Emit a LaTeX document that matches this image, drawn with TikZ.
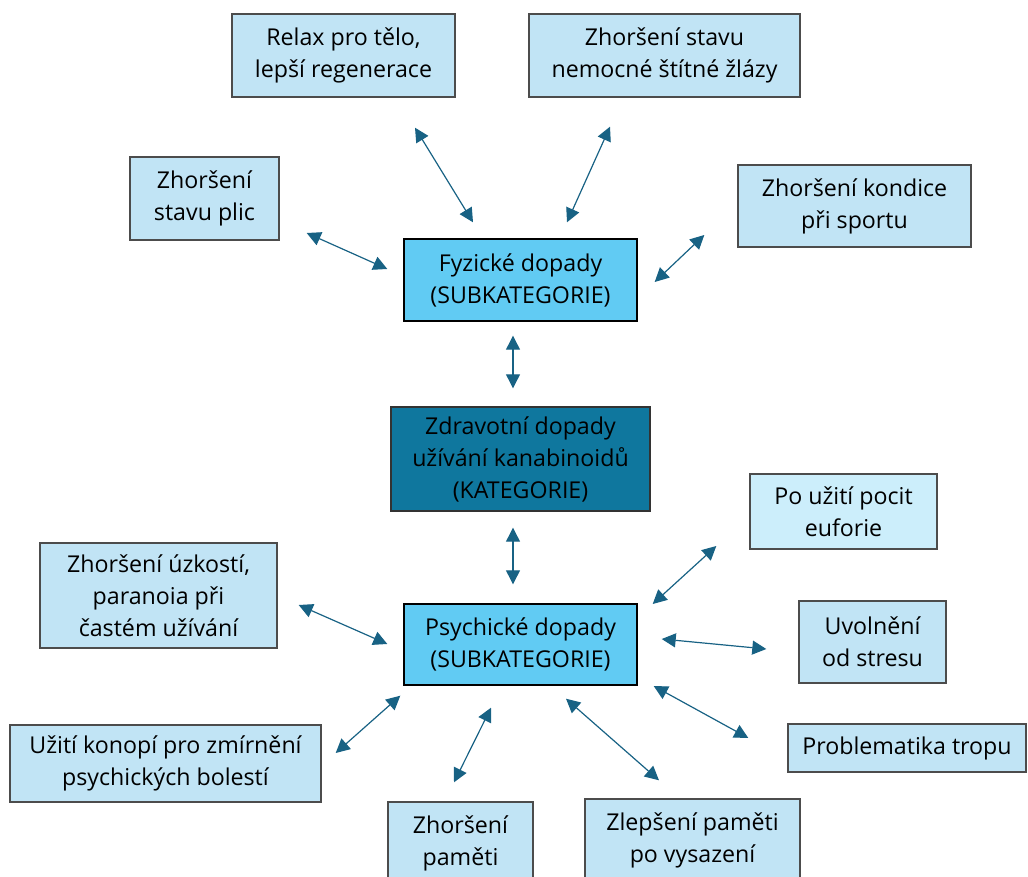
\documentclass[tikz,border=0pt]{standalone}
\usepackage{fontspec}
\setmainfont{Open Sans}
\usetikzlibrary{arrows.meta, calc}
\definecolor{leafblue}{RGB}{193,228,245}
\definecolor{paleblue}{RGB}{204,238,251}
\definecolor{subblue}{RGB}{97,203,243}
\definecolor{catblue}{RGB}{15,119,158}
\definecolor{linkblue}{RGB}{24,98,132}
\tikzset{
  leaf node/.style={
    draw=black!70,
    line width=0.7pt,
    fill=leafblue,
    align=center,
    inner sep=0pt,
    font=\fontsize{11.6}{16}\selectfont,
  },
  sub node/.style={
    leaf node,
    draw=black,
    fill=subblue,
  },
  cat node/.style={
    leaf node,
    draw=black!80,
    fill=catblue,
  },
  link/.style={
    {Triangle[length=7pt,width=7pt]}-{Triangle[length=7pt,width=7pt]},
    draw=linkblue,
    line width=0.6pt,
  },
}

\begin{document}
\begin{tikzpicture}[x=0.5pt, y=-0.5pt]
      \clip (0,0) rectangle (1028,877);

      \node[leaf node, minimum width=111.5pt, minimum height=41.5pt] (relax)   at (343.5,55.5) {Relax pro tělo,\\lepší regenerace};
      \node[leaf node, minimum width=135.5pt, minimum height=41.5pt] (stit)    at (664.5,55.5) {Zhoršení stavu\\nemocné štítné žlázy};
      \node[leaf node, minimum width=74.5pt,  minimum height=41.5pt] (plic)    at (204.5,198.5) {Zhoršení\\stavu plic};
      \node[leaf node, minimum width=116.5pt, minimum height=41pt]   (kondice) at (854.5,206) {Zhoršení kondice\\při sportu};
      \node[sub node,  minimum width=116.5pt, minimum height=41pt]   (fyz)     at (520.5,280) {Fyzické dopady\\(SUBKATEGORIE)};
      \node[cat node,  minimum width=129.5pt, minimum height=52pt]   (zdrav)   at (520.5,459) {Zdravotní dopady\\užívání kanabinoidů\\(KATEGORIE)};
      \node[leaf node, fill=paleblue, minimum width=93.5pt, minimum height=37.5pt] (euforie) at (843.5,511.5) {Po užití pocit\\euforie};
      \node[leaf node, minimum width=118.5pt, minimum height=52.5pt] (uzkost)  at (158.5,595.5) {Zhoršení úzkostí,\\paranoia při\\častém užívání};
      \node[sub node,  minimum width=116.5pt, minimum height=40.5pt] (psych)   at (520.5,644.5) {Psychické dopady\\(SUBKATEGORIE)};
      \node[leaf node, minimum width=73.5pt,  minimum height=41pt]   (stres)   at (872.5,642) {Uvolnění\\od stresu};
      \node[leaf node, minimum width=119pt,   minimum height=24pt]   (tropu)   at (907,748) {Problematika tropu};
      \node[leaf node, minimum width=155.5pt, minimum height=38.5pt] (konopi)  at (165.5,763.5) {Užití konopí pro zmírnění\\psychických bolestí};
      \node[leaf node, minimum width=72.5pt,  minimum height=41.5pt] (pamet)   at (460.5,843.5) {Zhoršení\\paměti};
      \node[leaf node, minimum width=107.5pt, minimum height=41.5pt] (zlep)    at (692.5,840.5) {Zlepšení paměti\\po vysazení};

      \draw[link] ($(relax.south)+(71.5,30)$)    -- ($(fyz.north)+(-47.5,-16)$);
      \draw[link] ($(stit.south)+(-54.5,29)$)    -- ($(fyz.north)+(46.5,-16)$);
      \draw[link] ($(plic.east)+(27,34.5)$)      -- ($(fyz.west)+(-16,-11)$);
      \draw[link] ($(kondice.west)+(-33,29)$)    -- ($(fyz.east)+(17,2)$);
      \draw[link] ($(fyz.south)+(-7.5,14)$)      -- ($(zdrav.north)+(-7.5,-18)$);

      \draw[link] ($(zdrav.south)+(-7.5,16)$)    -- ($(psych.north)+(-7.5,-19)$);
      \draw[link] ($(euforie.west)+(-33,34.5)$)  -- ($(psych.east)+(15,-40.5)$);
      \draw[link] ($(stres.west)+(-32,7)$)       -- ($(psych.east)+(24,-5.5)$);
      \draw[link] ($(tropu.west)+(-39,-10)$)     -- ($(psych.east)+(16,41.5)$);
      \draw[link] ($(zlep.north)+(-33.5,-18)$)   -- ($(psych.south)+(45.5,13)$);
      \draw[link] ($(pamet.north)+(-6.5,-19)$)   -- ($(psych.south)+(-29.5,22)$);
      \draw[link] ($(konopi.east)+(14,-10.5)$)   -- ($(psych.south west)+(-3,10)$);
      \draw[link] ($(uzkost.east)+(21,9.5)$)     -- ($(psych.west)+(-16,-0.5)$);
\end{tikzpicture}
\end{document}
